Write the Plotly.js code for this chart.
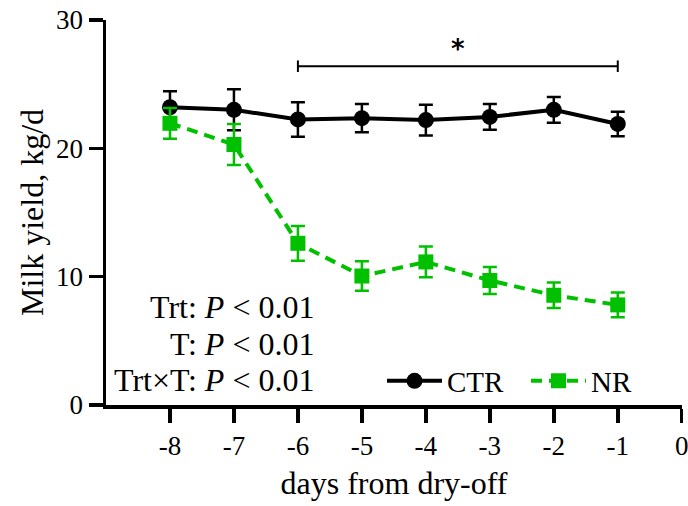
<!DOCTYPE html>
<html><head><meta charset="utf-8">
<script src="https://cdn.plot.ly/plotly-3.0.1.min.js"></script>
<style>body{margin:0;background:#fff}#c{width:688px;height:506px}</style>
</head><body><div id="c"></div>
<script>
var days = [-8, -7, -6, -5, -4, -3, -2, -1];
var ctrMean = [23.2, 23.0, 22.25, 22.35, 22.2, 22.45, 23.0, 21.9];
var ctrSE   = [1.25, 1.6, 1.35, 1.1, 1.2, 1.0, 1.0, 0.95];
var nrMean  = [21.95, 20.3, 12.6, 10.05, 11.15, 9.7, 8.55, 7.8];
var nrSE    = [1.2, 1.6, 1.35, 1.15, 1.2, 1.05, 1.0, 0.97];
var xTicks = [-8, -7, -6, -5, -4, -3, -2, -1, 0];
var yTicks = [0, 10, 20, 30];
var sigDays = [-6, -1];
var sigLevel = 26.4;
var statLines = ['Trt: <i>P</i> < 0.01', 'T: <i>P</i> < 0.01', 'Trt×T: <i>P</i> < 0.01'];

var green = '#00C000';
var F = 'Liberation Serif, Times New Roman, serif';

var traces = [
  {x: days, y: ctrMean, name: 'CTR', type: 'scatter', mode: 'lines+markers',
   line: {color: '#000', width: 4}, marker: {symbol: 'circle', size: 16, color: '#000'},
   error_y: {type: 'data', array: ctrSE, visible: true, color: '#000', thickness: 2.5, width: 7}},
  {x: days, y: nrMean, name: 'NR', type: 'scatter', mode: 'lines+markers',
   line: {color: green, width: 4, dash: '11px,7px'}, marker: {symbol: 'square', size: 15, color: green},
   error_y: {type: 'data', array: nrSE, visible: true, color: green, thickness: 2.5, width: 7}}
];

var annotations = [{
  x: (sigDays[0] + sigDays[1]) / 2, y: sigLevel, xref: 'x', yref: 'y', text: '<b>*</b>',
  showarrow: false, yanchor: 'bottom', yshift: 0, font: {family: 'DejaVu Sans, Arial', size: 26, color: '#000'}
}];
var statY = [307, 344, 380];
statLines.forEach(function (t, i) {
  annotations.push({x: (316 - 106) / 576, y: (405 - statY[i]) / 385, xref: 'paper', yref: 'paper', text: t,
    showarrow: false, xanchor: 'right', yanchor: 'middle', font: {family: F, size: 32, color: '#000'}});
});

var layout = {
  width: 688, height: 506,
  margin: {l: 106, r: 6, t: 20, b: 101},
  paper_bgcolor: '#fff', plot_bgcolor: '#fff',
  font: {family: F, color: '#000'},
  showlegend: true,
  legend: {orientation: 'h', x: (382 - 106) / 576, y: (405 - 381) / 385, xanchor: 'left', yanchor: 'middle',
    font: {family: F, size: 29, color: '#000'}, bgcolor: 'rgba(0,0,0,0)', borderwidth: 0, itemwidth: 55,
    entrywidth: 74, entrywidthmode: 'pixels'},
  xaxis: {range: [-9, 0.004], tickvals: xTicks, ticktext: xTicks.map(String), showgrid: false, zeroline: false,
    showline: true, linecolor: '#000', linewidth: 3.5, ticks: 'outside', ticklen: 14, tickwidth: 3.5, tickcolor: '#000',
    ticklabeloverflow: 'allow',
    tickfont: {family: F, size: 27, color: '#000'},
    title: {text: 'days from dry-off', font: {family: F, size: 32, color: '#000'}, standoff: 12}},
  yaxis: {range: [0, 30], tickvals: yTicks, showgrid: false, zeroline: false,
    showline: true, linecolor: '#000', linewidth: 3.5, ticks: 'outside', ticklen: 14, tickwidth: 3.5, tickcolor: '#000',
    tickfont: {family: F, size: 27, color: '#000'},
    title: {text: 'Milk yield, kg/d', font: {family: F, size: 32, color: '#000'}, standoff: 4}},
  shapes: [
    {type: 'line', xref: 'x', yref: 'y', x0: sigDays[0], x1: sigDays[1], y0: sigLevel, y1: sigLevel, line: {color: '#000', width: 2}},
    {type: 'line', xref: 'x', yref: 'y', x0: sigDays[0], x1: sigDays[0], y0: sigLevel - 0.45, y1: sigLevel + 0.45, line: {color: '#000', width: 2}},
    {type: 'line', xref: 'x', yref: 'y', x0: sigDays[1], x1: sigDays[1], y0: sigLevel - 0.45, y1: sigLevel + 0.45, line: {color: '#000', width: 2}}
  ],
  annotations: annotations
};
Plotly.newPlot('c', traces, layout, {displayModeBar: false, staticPlot: true});
</script></body></html>
